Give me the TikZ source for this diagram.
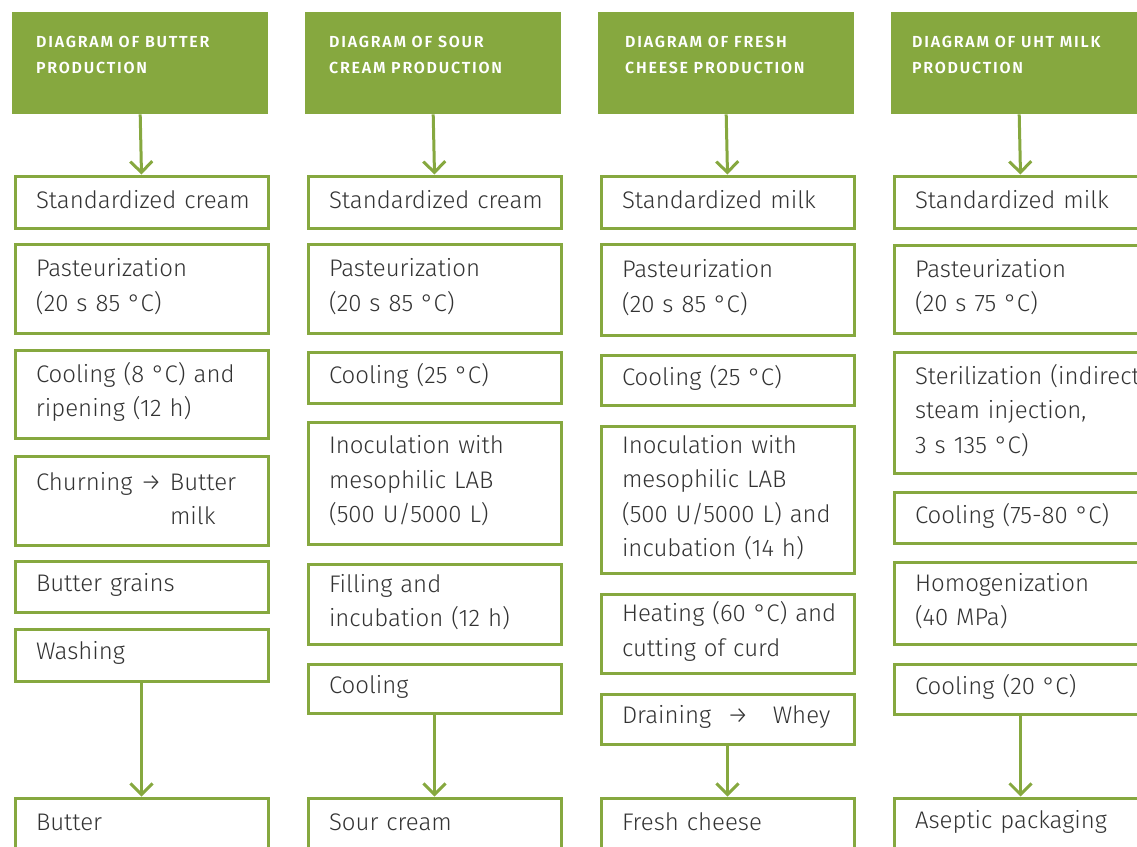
\documentclass[tikz,border=0pt]{standalone}
\usepackage{fontspec}
\setmainfont{Fira Sans}[UprightFont=* Light, BoldFont=* SemiBold]
\usetikzlibrary{arrows.meta}
\definecolor{leaf}{HTML}{86A83F}
\definecolor{ink}{HTML}{333333}
\tikzset{
  x=1pt, y=-1pt,
  stepbox/.style={draw=leaf, line width=3pt, fill=white, anchor=north west,
    minimum width=253pt, text width=230pt, inner xsep=11.25pt, inner ysep=0pt,
    execute at begin node={\raggedright\leftskip=9.5pt\relax},
    execute at end node={\par\vspace*{4pt}},
    text=ink, font=\fontsize{24}{34.5}\selectfont},
  headbox/.style={fill=leaf, anchor=north west, minimum width=256pt,
    minimum height=102pt, inner sep=0pt},
  headtext/.style={anchor=north west, inner sep=0pt, text=white, align=left,
    font=\bfseries\fontsize{16}{26}\selectfont\addfontfeatures{LetterSpace=11}},
  flow/.style={draw=leaf, line width=3pt,
    -{Straight Barb[length=11pt,width=22pt,line width=3pt]}},
}
\begin{document}
\begin{tikzpicture}
\useasboundingbox (0,0) rectangle (1137,846);
\clip (0,0) rectangle (1137,846);
% headers
\node[headbox] (h1) at (12,12) {};
\node[headbox] (h2) at (305,12) {};
\node[headbox] (h3) at (598,12) {};
\node[headbox] (h4) at (891,12) {};
\node[headtext] (t1) at (36,35.5) {DIAGRAM OF BUTTER\\PRODUCTION};
\node[headtext] (t2) at (329,35.5) {DIAGRAM OF SOUR\\CREAM PRODUCTION};
\node[headtext] (t3) at (625,35.5) {DIAGRAM OF FRESH\\CHEESE PRODUCTION};
\node[headtext] (t4) at (912,35.5) {DIAGRAM OF UHT MILK\\PRODUCTION};
% column 1
\node[stepbox, minimum height=52] (a1) at (13.5,174.5) {Standardized cream};
\node[stepbox, minimum height=89] (a2) at (13.5,242.5) {Pasteurization\\(20 s 85 °C)};
\node[stepbox, minimum height=88] (a3) at (13.5,348.5) {Cooling (8 °C) and\\ripening (12 h)};
\node[stepbox, minimum height=89] (a4) at (13.5,454.5) {Churning → Butter\\\hphantom{Churning → }milk};
\node[stepbox, minimum height=51] (a5) at (13.5,559.5) {Butter grains};
\node[stepbox, minimum height=52] (a6) at (13.5,627.5) {Washing};
\node[stepbox, minimum height=52] (a7) at (13.5,796.5) {Butter};
% column 2
\node[stepbox, minimum height=52] (b1) at (306.5,174.5) {Standardized cream};
\node[stepbox, minimum height=89] (b2) at (306.5,242.5) {Pasteurization\\(20 s 85 °C)};
\node[stepbox, minimum height=51] (b3) at (306.5,350.5) {Cooling (25 °C)};
\node[stepbox, minimum height=122] (b4) at (306.5,420.5) {Inoculation with\\mesophilic LAB\\(500 U/5000 L)};
\node[stepbox, minimum height=80] (b5) at (306.5,562.5) {Filling and\\incubation (12 h)};
\node[stepbox, minimum height=49] (b6) at (306.5,662.5) {Cooling};
\node[stepbox, minimum height=52] (b7) at (306.5,796.5) {Sour cream};
% column 3
\node[stepbox, minimum height=52] (c1) at (599.5,174.5) {Standardized milk};
\node[stepbox, minimum height=91] (c2) at (599.5,242.5) {Pasteurization\\(20 s 85 °C)};
\node[stepbox, minimum height=50] (c3) at (599.5,353.5) {Cooling (25 °C)};
\node[stepbox, minimum height=147] (c4) at (599.5,424.5) {Inoculation with\\mesophilic LAB\\(500 U/5000 L) and\\incubation (14 h)};
\node[stepbox, minimum height=79] (c5) at (599.5,592.5) {Heating (60 °C) and\\cutting of curd};
\node[stepbox, minimum height=50] (c6) at (599.5,692.5) {\mbox{Draining\hspace{16pt}→\hspace{24pt}Whey}};
\node[stepbox, minimum height=52] (c7) at (599.5,796.5) {Fresh cheese};
% column 4
\node[stepbox, minimum height=52] (d1) at (892.5,174.5) {Standardized milk};
\node[stepbox, minimum height=88] (d2) at (892.5,243.5) {Pasteurization\\(20 s 75 °C)};
\node[stepbox, minimum height=121] (d3) at (892.5,350.5) {\mbox{Sterilization (indirect}\\steam injection,\\3 s 135 °C)};
\node[stepbox, minimum height=51] (d4) at (892.5,490.5) {Cooling (75-80 °C)};
\node[stepbox, minimum height=82] (d5) at (892.5,560.5) {Homogenization\\(40 MPa)};
\node[stepbox, minimum height=50] (d6) at (892.5,662.5) {Cooling (20 °C)};
\node[stepbox, minimum height=52] (d7) at (892.5,796.5) {Aseptic packaging};
% connectors
\draw[flow] (h1.south) -- (a1.north);
\draw[flow] (h2.south) -- (b1.north);
\draw[flow] (h3.south) -- (c1.north);
\draw[flow] (h4.south) -- (d1.north);
\draw[flow] (a6.south) -- (a7.north);
\draw[flow] (b6.south) -- (b7.north);
\draw[flow] (c6.south) -- (c7.north);
\draw[flow] (d6.south) -- (d7.north);
\end{tikzpicture}
\end{document}
